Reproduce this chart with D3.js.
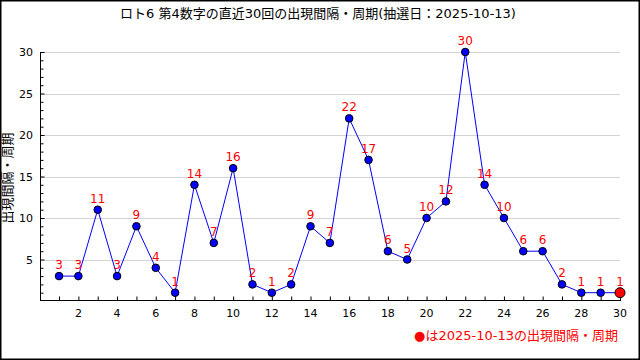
<!DOCTYPE html>
<html><head><meta charset="utf-8">
<script src="https://cdn.jsdelivr.net/npm/d3@7"></script>
<style>body{margin:0;background:#fff}svg{display:block}</style>
</head><body>
<svg id="c" width="640" height="360"></svg>
<script>
const title = "ロト6 第4数字の直近30回の出現間隔・周期(抽選日：2025-10-13)";
const yTitle = "出現間隔・周期";
const legendText = "●は2025-10-13の出現間隔・周期";
const draws = d3.range(1, 31);
const values = [3,3,11,3,9,4,1,14,7,16,2,1,2,9,7,22,17,6,5,10,12,30,14,10,6,6,2,1,1,1];
const xLabelTicks = [2,4,6,8,10,12,14,16,18,20,22,24,26,28,30];
const yLabelTicks = [5,10,15,20,25,30];

const font = "'DejaVu Sans','Noto Sans CJK JP',sans-serif";
const svg = d3.select("#c");
const x = d3.scaleLinear().domain([0,30]).range([39.7,620]);
const y = d3.scaleLinear().domain([0,30]).range([301,52]);

svg.append("rect").attr("x",0.75).attr("y",0.75).attr("width",638.5).attr("height",358.5)
  .attr("fill","#fff").attr("stroke","#000").attr("stroke-width",1.5);

svg.append("text").attr("x",318).attr("y",18).attr("text-anchor","middle")
  .attr("font-family",font).attr("font-size",13).attr("fill","#000").text(title);

// grid
svg.append("g").selectAll("line").data(yLabelTicks).join("line")
  .attr("x1",40).attr("x2",620).attr("y1",d=>Math.round(y(d))+0.5).attr("y2",d=>Math.round(y(d))+0.5)
  .attr("stroke","#d4d4d4").attr("stroke-width",1);

// y axis
const ya = svg.append("g").attr("transform","translate(40.5,0)")
  .call(d3.axisRight(y).tickValues(d3.range(1,31)).tickSize(3).tickFormat(""));
ya.select(".domain").remove();
ya.selectAll(".tick line").attr("x2",d=>d%5===0?4:3).attr("stroke","#000");
svg.append("line").attr("x1",40.5).attr("x2",40.5).attr("y1",52).attr("y2",301).attr("stroke","#000");
svg.append("g").selectAll("text").data(yLabelTicks).join("text")
  .attr("x",33).attr("y",d=>y(d)+4).attr("text-anchor","end")
  .attr("font-family",font).attr("font-size",11).text(d=>d);

// x axis
const xa = svg.append("g").attr("transform","translate(0,300.5)")
  .call(d3.axisTop(x).tickValues(draws).tickSize(4).tickFormat(""));
xa.select(".domain").remove();
xa.selectAll(".tick line").attr("stroke","#000");
svg.append("line").attr("x1",40).attr("x2",621).attr("y1",300.5).attr("y2",300.5).attr("stroke","#000");
svg.append("g").selectAll("text").data(xLabelTicks).join("text")
  .attr("x",d=>x(d)).attr("y",317).attr("text-anchor","middle")
  .attr("font-family",font).attr("font-size",11).text(d=>d);

// y title
svg.append("text").attr("transform","translate(12,178) rotate(-90)").attr("text-anchor","middle")
  .attr("font-family",font).attr("font-size",13).text(yTitle);

// line
const pts = draws.map((d,i)=>({d, v: values[i]}));
svg.append("path").datum(pts).attr("fill","none").attr("stroke","#0000ff").attr("stroke-width",1)
  .attr("d", d3.line().x(p=>x(p.d)).y(p=>y(p.v)));

svg.append("g").selectAll("circle").data(pts).join("circle")
  .attr("cx",p=>x(p.d)).attr("cy",p=>y(p.v))
  .attr("r",(p,i)=>i===pts.length-1?5:3.8)
  .attr("fill",(p,i)=>i===pts.length-1?"#ff0000":"#0000ff")
  .attr("stroke","#000").attr("stroke-width",1);

svg.append("g").selectAll("text").data(pts).join("text")
  .attr("x",p=>x(p.d)).attr("y",p=>y(p.v)-7).attr("text-anchor","middle")
  .attr("font-family",font).attr("font-size",12).attr("fill","#ff0000").text(p=>p.v);

svg.append("text").attr("x",618).attr("y",340).attr("text-anchor","end")
  .attr("font-family",font).attr("font-size",13).attr("fill","#ff0000").text(legendText);
</script>
</body></html>
